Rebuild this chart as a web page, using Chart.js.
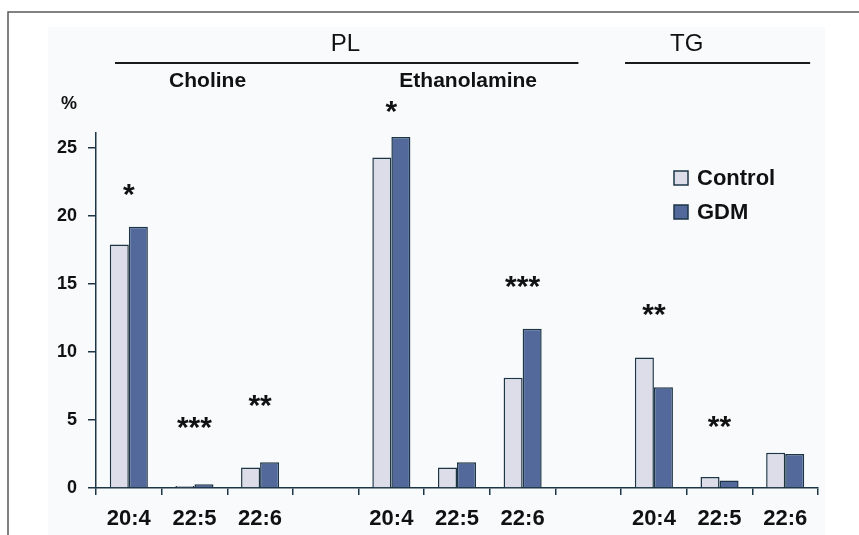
<!DOCTYPE html>
<html><head><meta charset="utf-8">
<script src="https://cdn.jsdelivr.net/npm/chart.js@4"></script>
<style>html,body{margin:0;padding:0;background:#fff}#wrap{position:relative;width:859px;height:535px}canvas{display:block}</style>
</head><body><div id="wrap"><canvas id="c" width="859" height="535"></canvas></div>
<script>
// ---- data ----
const categories = ['20:4','22:5','22:6','','20:4','22:5','22:6','','20:4','22:5','22:6'];
const controlValues = [17.9, 0.15, 1.5, null, 24.3, 1.5, 8.1, null, 9.6, 0.8, 2.6];
const gdmValues     = [19.2, 0.27, 1.9, null, 25.8, 1.9, 11.7, null, 7.4, 0.55, 2.5];
const significance      = ['*', '***', '**', '', '*', '', '***', '', '**', '**', ''];
const significanceLevel = [22.1, 5.0, 6.6, null, 28.2, null, 15.4, null, 13.3, 5.1, null];
const yTicks = [0, 5, 10, 15, 20, 25];
const seriesNames = ['Control', 'GDM'];
const groupLabels = ['PL', 'TG'];
const subgroupLabels = ['Choline', 'Ethanolamine'];
const yUnit = '%';

const FONT = '"Liberation Sans", Arial, Helvetica, sans-serif';
const DARK = '#1d3646';
const CONTROL_FILL = '#dcdde9';
const GDM_FILL = '#53689b';

// decoration anchors in category units (0 = centre of first category)
const groupSpans = [[-0.21, 6.85, 3.3], [7.56, 10.38, 8.5]];
const subgroupCentres = [1.2, 5.17];

const deco = {
  id: 'deco',
  beforeDraw(chart) {
    const ctx = chart.ctx;
    ctx.save();
    ctx.fillStyle = '#ffffff';
    ctx.fillRect(0, 0, chart.width, chart.height);
    ctx.fillStyle = '#f9fafc';
    ctx.fillRect(48, 27, 777, chart.height - 27);
    ctx.restore();
  },
  afterDraw(chart) {
    const ctx = chart.ctx;
    const xs = chart.scales.x, ys = chart.scales.y;
    const step = (xs.right - xs.left) / categories.length;
    const cx = v => xs.left + (v + 0.5) * step;
    ctx.save();
    // frame
    ctx.strokeStyle = '#5a5a5a';
    ctx.lineWidth = 1.5;
    ctx.beginPath();
    ctx.moveTo(8, chart.height); ctx.lineTo(8, 12); ctx.lineTo(chart.width, 12);
    ctx.stroke();
    // group headers
    ctx.fillStyle = '#111';
    ctx.textAlign = 'center';
    ctx.textBaseline = 'middle';
    groupLabels.forEach((g, i) => {
      const [a, b, c] = groupSpans[i];
      ctx.font = '24px ' + FONT;
      ctx.fillText(g, cx(c), 44);
      ctx.strokeStyle = '#1a1a1a';
      ctx.lineWidth = 2;
      ctx.beginPath();
      ctx.moveTo(cx(a), 63); ctx.lineTo(cx(b), 63);
      ctx.stroke();
    });
    ctx.font = 'bold 21px ' + FONT;
    subgroupLabels.forEach((s, i) => ctx.fillText(s, cx(subgroupCentres[i]), 81));
    // unit
    ctx.font = 'bold 18px ' + FONT;
    ctx.fillText(yUnit, 69, 104);
    // significance stars
    ctx.font = 'bold 30px ' + FONT;
    ctx.textBaseline = 'alphabetic';
    significance.forEach((s, i) => {
      if (!s) return;
      const y = ys.getPixelForValue(significanceLevel[i]);
      ctx.fillText(s, xs.getPixelForValue(i), y + 17);
    });
    // legend
    ctx.textAlign = 'left';
    ctx.textBaseline = 'middle';
    ctx.font = 'bold 22px ' + FONT;
    chart.data.datasets.forEach((ds, i) => {
      const y = 178 + i * 34;
      ctx.fillStyle = ds.backgroundColor;
      ctx.fillRect(674, y - 7, 14, 14);
      ctx.strokeStyle = DARK;
      ctx.lineWidth = 1.5;
      ctx.strokeRect(674, y - 7, 14, 14);
      ctx.fillStyle = '#111';
      ctx.fillText(ds.label, 697, y + 1);
    });
    ctx.restore();
  }
};

new Chart(document.getElementById('c'), {
  type: 'bar',
  data: {
    labels: categories,
    datasets: [
      { label: seriesNames[0], data: controlValues, backgroundColor: CONTROL_FILL, borderColor: DARK, borderWidth: 1.5 },
      { label: seriesNames[1], data: gdmValues, backgroundColor: GDM_FILL, borderColor: DARK, borderWidth: 1.5 }
    ]
  },
  options: {
    responsive: false,
    animation: false,
    devicePixelRatio: 1,
    layout: { padding: { top: 133, right: 41, left: 0, bottom: 0 } },
    plugins: { legend: { display: false }, tooltip: { enabled: false } },
    datasets: { bar: { categoryPercentage: 0.58, barPercentage: 1.0 } },
    scales: {
      x: {
        afterFit: s => { s.height = 47; },
        grid: { display: true, drawOnChartArea: false, drawTicks: true, tickLength: 7, color: DARK, lineWidth: 1.5, offset: true },
        border: { display: true, color: DARK, width: 1.5 },
        ticks: { autoSkip: false, maxRotation: 0, minRotation: 0, padding: 11, color: '#111', font: { family: FONT, size: 22, weight: 'bold' } }
      },
      y: {
        min: 0, max: 26.1,
        afterFit: s => { s.width = 96; },
        afterBuildTicks: s => { s.ticks = yTicks.map(v => ({ value: v })); },
        grid: { display: true, drawOnChartArea: false, drawTicks: true, tickLength: 8, color: DARK, lineWidth: 1.5 },
        border: { display: true, color: DARK, width: 1.5 },
        ticks: { stepSize: 5, padding: 11, color: '#111', font: { family: FONT, size: 18, weight: 'bold' } }
      }
    }
  },
  plugins: [deco]
});
</script></body></html>
